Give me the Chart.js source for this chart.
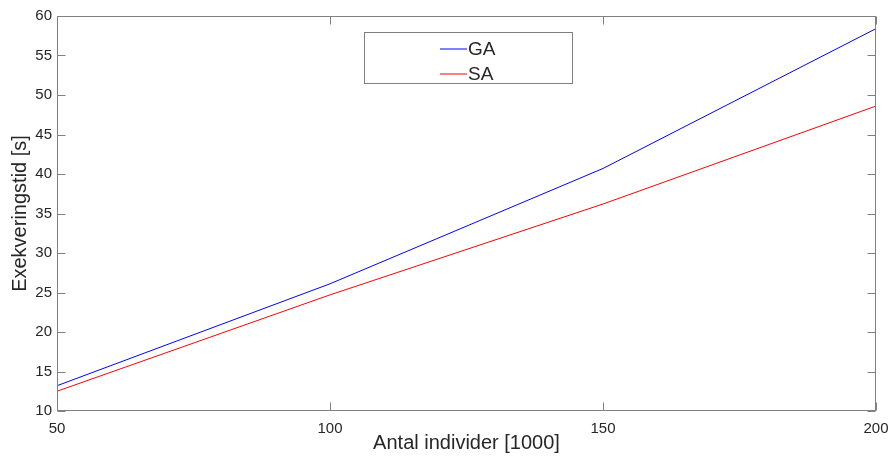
<!DOCTYPE html>
<html>
<head>
<meta charset="utf-8">
<script src="https://cdn.jsdelivr.net/npm/chart.js@4/dist/chart.umd.min.js"></script>
<style>
  html, body { margin: 0; padding: 0; background: #fff; }
</style>
</head>
<body>
<canvas id="tidChart" width="894" height="456"></canvas>
<script>
// data
const individer = [50, 100, 150, 200];
const gaTid = [13.2, 26.1, 40.7, 58.4];
const saTid = [12.5, 24.7, 36.2, 48.6];
const xTickValues = [50, 100, 150, 200];
const yTickValues = [10, 15, 20, 25, 30, 35, 40, 45, 50, 55, 60];

const FONT = '"Liberation Sans", Arial, Helvetica, sans-serif';
const TEXT = '#262626';
const AXIS = '#808080';

// matlab-style box with inward ticks + legend inside the plot
const matlabAxes = {
    id: 'matlabAxes',
    afterDraw(chart) {
        const { ctx, chartArea: a, scales } = chart;
        const L = Math.round(a.left) + 0.5, R = Math.round(a.right) - 0.5;
        const T = Math.round(a.top) + 0.5, B = Math.round(a.bottom) - 0.5;
        const tick = 8;
        ctx.save();
        ctx.strokeStyle = AXIS;
        ctx.lineWidth = 1;
        ctx.strokeRect(L, T, R - L, B - T);
        ctx.beginPath();
        scales.x.ticks.forEach(t => {
            const px = Math.round(scales.x.getPixelForValue(t.value)) + 0.5;
            ctx.moveTo(px, B); ctx.lineTo(px, B - tick);
            ctx.moveTo(px, T); ctx.lineTo(px, T + tick);
        });
        scales.y.ticks.forEach(t => {
            const py = Math.round(scales.y.getPixelForValue(t.value)) + 0.5;
            ctx.moveTo(L, py); ctx.lineTo(L + tick, py);
            ctx.moveTo(R, py); ctx.lineTo(R - tick, py);
        });
        ctx.stroke();

        // legend box
        const box = { x: 364.5, y: 32.5, w: 208, h: 51 };
        ctx.fillStyle = '#fff';
        ctx.fillRect(box.x, box.y, box.w, box.h);
        ctx.strokeStyle = AXIS;
        ctx.strokeRect(box.x, box.y, box.w, box.h);
        ctx.font = '19px ' + FONT;
        ctx.textBaseline = 'middle';
        ctx.textAlign = 'left';
        chart.data.datasets.forEach((ds, i) => {
            const cy = 49 + i * 25;
            ctx.strokeStyle = ds.borderColor;
            ctx.beginPath();
            ctx.moveTo(440, cy);
            ctx.lineTo(467, cy);
            ctx.stroke();
            ctx.fillStyle = TEXT;
            ctx.fillText(ds.label, 468, cy + 1);
        });
        ctx.restore();
    }
};

const ctx = document.getElementById('tidChart').getContext('2d');
new Chart(ctx, {
    type: 'line',
    data: {
        datasets: [
            {
                label: 'GA',
                data: individer.map((x, i) => ({ x: x, y: gaTid[i] })),
                borderColor: '#0000ff',
                borderWidth: 1,
                pointRadius: 0,
                tension: 0,
                fill: false
            },
            {
                label: 'SA',
                data: individer.map((x, i) => ({ x: x, y: saTid[i] })),
                borderColor: '#ff0000',
                borderWidth: 1,
                pointRadius: 0,
                tension: 0,
                fill: false
            }
        ]
    },
    options: {
        responsive: false,
        animation: false,
        devicePixelRatio: 1,
        layout: { padding: { top: 16, right: 18, left: 0, bottom: 0 } },
        plugins: {
            legend: { display: false },
            tooltip: { enabled: false }
        },
        scales: {
            x: {
                type: 'linear',
                min: 50,
                max: 200,
                afterBuildTicks: (scale) => { scale.ticks = xTickValues.map(v => ({ value: v })); },
                afterFit: (scale) => {
                    scale.height = 45;
                    scale.paddingLeft = 0;
                    scale.paddingRight = 0;
                },
                grid: { display: false, drawTicks: false },
                border: { display: false },
                ticks: {
                    padding: 9,
                    maxRotation: 0,
                    color: TEXT,
                    font: { family: FONT, size: 15 }
                },
                title: {
                    display: true,
                    text: 'Antal individer [1000]',
                    color: TEXT,
                    font: { family: FONT, size: 20, lineHeight: 1 },
                    padding: { top: 0, bottom: 3 }
                }
            },
            y: {
                type: 'linear',
                min: 10,
                max: 60,
                afterBuildTicks: (scale) => { scale.ticks = yTickValues.map(v => ({ value: v })); },
                afterFit: (scale) => {
                    scale.width = 57;
                    scale.paddingTop = 0;
                    scale.paddingBottom = 0;
                },
                grid: { display: false, drawTicks: false },
                border: { display: false },
                ticks: {
                    padding: 5,
                    color: TEXT,
                    font: { family: FONT, size: 15 }
                },
                title: {
                    display: true,
                    text: 'Exekveringstid [s]',
                    color: TEXT,
                    font: { family: FONT, size: 20, lineHeight: 1 },
                    padding: { top: 10, bottom: 0 }
                }
            }
        }
    },
    plugins: [matlabAxes]
});
</script>
</body>
</html>
